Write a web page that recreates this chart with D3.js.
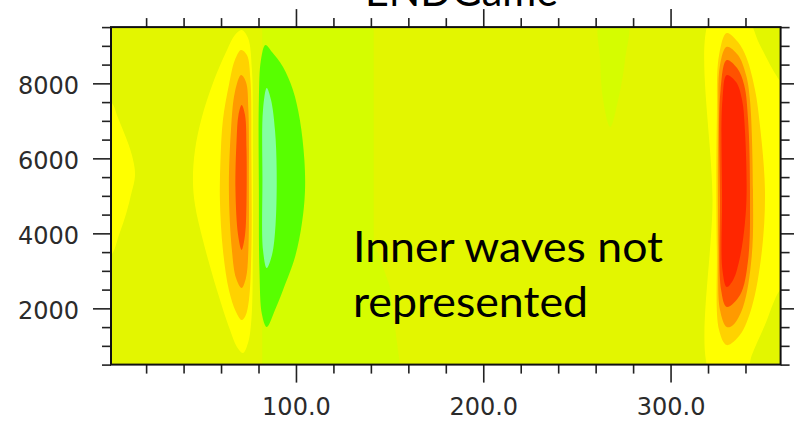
<!DOCTYPE html>
<html>
<head>
<meta charset="utf-8">
<script src="https://cdn.jsdelivr.net/npm/d3@7"></script>
<style>
  body { margin: 0; background: #fff; }
  svg { display: block; }
  .tick text { font-family: "DejaVu Sans", sans-serif; font-size: 24px; fill: #2b2b2b; }
  .tick line { stroke: #222; stroke-width: 1.6; }
  .note { font-family: Lato, "Open Sans", sans-serif; fill: #000; }
</style>
</head>
<body>
<div id="chart"></div>
<script>
var width = 794, height = 421;

// axis domain (longitude index, height m)
var xDomain = [1.25, 358.75];
var yDomain = [500, 9500];

var xMajor = [100, 200, 300];
var xMinor = [20, 40, 60, 80, 120, 140, 160, 180, 220, 240, 260, 280, 320, 340];
var yMajor = [2000, 4000, 6000, 8000];
var yMinor = [500, 1000, 1500, 2500, 3000, 3500, 4500, 5000, 5500, 6500, 7000, 7500, 8500, 9000, 9500];

// contour outlines, [x, height]
var bandGreen = [[82, 9800], [141.5, 9800], [141.5, 3800], [150, 2600], [156, 300], [82, 300]];
var topPatch = [[262.4, 9700], [276.8, 9700], [275.7, 8621], [272, 7555], [267.8, 6835], [264, 7555], [262.4, 8621]];
var edgePatch = [[-6, 7600], [1.25, 7501], [5, 7075], [8.7, 6621], [12.4, 6088], [14.1, 5555], [11.9, 5021],
  [9.6, 4568], [5.5, 3955], [1.25, 3421], [-6, 3300], [-8, 5500]];

var westYellow = [[71.0, 9421], [74.4, 9208], [76.5, 8355], [77.0, 6221], [77.0, 3555], [76.2, 1688], [74.4, 1075],
  [71.7, 808], [68.5, 968], [64.8, 1421], [57.8, 2488], [50.3, 3821], [46.1, 4755], [45.0, 5421], [46.1, 6221],
  [49.8, 7101], [55.7, 8008], [63.2, 8888], [67.4, 9288]];
var westGold = [[70.7, 8888], [73.8, 8755], [75.7, 8088], [76.2, 6221], [76.2, 3555], [74.9, 2221], [73.0, 1795],
  [71.0, 1688], [68.0, 1901], [64.2, 2488], [61.0, 3555], [59.4, 4888], [59.7, 5955], [61.0, 7021], [64.2, 7955], [67.4, 8621]];
var westOrange = [[70.7, 8221], [73.3, 8035], [74.6, 7288], [74.9, 5421], [74.6, 3555], [73.3, 2808], [71.0, 2541],
  [68.0, 2808], [65.8, 3555], [64.2, 5155], [65.3, 6755], [67.4, 7768]];
var westRed = [[71.0, 7421], [72.8, 7155], [73.6, 6221], [73.6, 4888], [72.8, 3955], [71.0, 3555], [69.1, 3955],
  [67.7, 5155], [68.3, 6488], [69.3, 7155]];

var westGreen = [[83.7, 9021], [87.2, 8835], [93.1, 8435], [98.4, 7821], [102.1, 7021], [104.5, 5955], [104.8, 5101],
  [103.2, 4275], [99.5, 3368], [93.1, 2488], [88.8, 1955], [84.4, 1501], [81.9, 1821], [80.5, 3021], [80.2, 5155],
  [80.2, 7555], [81.3, 8621]];
var westAqua = [[84.4, 7875], [86.7, 7555], [88.8, 6755], [89.7, 5688], [89.1, 4221], [87.2, 3421], [84.4, 3075],
  [82.4, 3555], [82.1, 5421], [82.4, 7288]];

var eastYellow = [[322.2, 9800], [339.7, 9800], [347.7, 9021], [357.3, 8141], [367, 7555], [367, 2888], [358.4, 2488],
  [350.4, 1555], [343.4, 755], [339.7, 200], [322.2, 200], [322.4, 4888]];
var eastGold = [[330, 9341], [336, 9101], [340.6, 8675], [345.1, 7821], [347.7, 6888], [350.4, 5155], [348.8, 3555],
  [343.4, 2035], [337, 1288], [330, 1021], [325.9, 1421], [324.7, 3555], [324.7, 7021], [325.9, 8755]];
var eastOrange = [[330, 8976], [336, 8755], [340.3, 8221], [342.4, 7555], [344, 5155], [343.3, 3368], [338.7, 2035],
  [333.4, 1555], [330, 1501], [326.4, 1955], [325.5, 3555], [325.5, 7021], [326.4, 8488]];
var eastRedOrange = [[330, 8621], [335.5, 8408], [339.3, 7955], [341.4, 7021], [342.4, 5155], [341.4, 3288], [337.1, 2355],
  [330, 2035], [327, 2488], [326.4, 4888], [326.7, 7821]];
var eastRed = [[330, 8221], [335, 8035], [338.2, 7555], [339.7, 6755], [340.6, 5101], [339.7, 4275], [337.1, 3368],
  [333.4, 2755], [330, 2568], [327.7, 3021], [327.5, 4888], [327.7, 7555]];

var levels = ["base", "band", "yellow", "gold", "orange", "redorange", "red", "green", "aqua"];
var levelColors = ["#e3f600", "#d5fd00", "#ffff00", "#ffd200", "#ff9a00", "#ff5200", "#ff2600", "#58ff00", "#84ffa2"];

var titleText = "ENDGame";
var noteLines = ["Inner waves not", "represented"];

var layers = [
  {pts: bandGreen, level: "band", sharp: true},
  {pts: topPatch, level: "band"},
  {pts: edgePatch, level: "yellow"},
  {pts: westYellow, level: "yellow"},
  {pts: westGold, level: "gold"},
  {pts: westOrange, level: "orange"},
  {pts: westRed, level: "redorange"},
  {pts: westGreen, level: "green"},
  {pts: westAqua, level: "aqua"},
  {pts: eastYellow, level: "yellow"},
  {pts: eastGold, level: "gold"},
  {pts: eastOrange, level: "orange"},
  {pts: eastRedOrange, level: "redorange"},
  {pts: eastRed, level: "red"}
];

var x = d3.scaleLinear().domain(xDomain).range([111, 780.6]);
var y = d3.scaleLinear().domain(yDomain).range([364.6, 27.1]);
var color = d3.scaleOrdinal().domain(levels).range(levelColors);

var svg = d3.select("#chart").append("svg")
  .attr("width", width)
  .attr("height", height);

svg.append("clipPath").attr("id", "plotclip")
  .append("rect")
  .attr("x", x(xDomain[0])).attr("y", y(yDomain[1]))
  .attr("width", x(xDomain[1]) - x(xDomain[0]))
  .attr("height", y(yDomain[0]) - y(yDomain[1]));

var plot = svg.append("g").attr("clip-path", "url(#plotclip)");

plot.append("rect")
  .attr("x", x(xDomain[0])).attr("y", y(yDomain[1]))
  .attr("width", x(xDomain[1]) - x(xDomain[0]))
  .attr("height", y(yDomain[0]) - y(yDomain[1]))
  .attr("fill", color("base"));

var smooth = d3.line()
  .x(function(d) { return x(d[0]); })
  .y(function(d) { return y(d[1]); })
  .curve(d3.curveCatmullRomClosed.alpha(0.5));
var sharp = d3.line()
  .x(function(d) { return x(d[0]); })
  .y(function(d) { return y(d[1]); })
  .curve(d3.curveLinearClosed);

plot.selectAll("path.level")
  .data(layers)
  .enter().append("path")
  .attr("class", "level")
  .attr("d", function(d) { return d.sharp ? sharp(d.pts) : smooth(d.pts); })
  .attr("fill", function(d) { return color(d.level); });

// axes: outward ticks on all four sides
function addAxis(axis, tx, ty) {
  var g = svg.append("g").attr("transform", "translate(" + tx + "," + ty + ")").call(axis);
  g.select(".domain").remove();
  return g;
}

var yBottom = y(yDomain[0]), yTop = y(yDomain[1]);
var xLeft = x(xDomain[0]), xRight = x(xDomain[1]);

addAxis(d3.axisBottom(x).tickValues(xMinor).tickSize(9).tickFormat(""), 0, yBottom);
addAxis(d3.axisTop(x).tickValues(xMinor).tickSize(9).tickFormat(""), 0, yTop);
addAxis(d3.axisTop(x).tickValues(xMajor).tickSize(18).tickFormat(""), 0, yTop);
addAxis(d3.axisBottom(x).tickValues(xMajor).tickSize(18).tickPadding(15).tickFormat(d3.format(".1f")), 0, yBottom);

addAxis(d3.axisLeft(y).tickValues(yMinor).tickSize(9).tickFormat(""), xLeft, 0);
addAxis(d3.axisRight(y).tickValues(yMinor).tickSize(9).tickFormat(""), xRight, 0);
addAxis(d3.axisRight(y).tickValues(yMajor).tickSize(18).tickFormat(""), xRight, 0);
addAxis(d3.axisLeft(y).tickValues(yMajor).tickSize(18).tickPadding(14).tickFormat(d3.format("d")), xLeft, 0)
  .selectAll("text").attr("dy", "0.43em");

svg.append("rect")
  .attr("x", xLeft).attr("y", yTop)
  .attr("width", xRight - xLeft)
  .attr("height", yBottom - yTop)
  .attr("fill", "none")
  .attr("stroke", "#111")
  .attr("stroke-width", 2);

// title, cut off by the top of the picture
svg.append("text")
  .attr("class", "note")
  .attr("x", 365).attr("y", 6)
  .attr("font-size", 42)
  .attr("textLength", 193)
  .attr("lengthAdjust", "spacingAndGlyphs")
  .text(titleText);

svg.selectAll("text.line")
  .data(noteLines)
  .enter().append("text")
  .attr("class", "note line")
  .attr("x", 353)
  .attr("y", function(d, i) { return 262 + i * 55; })
  .attr("font-size", 42)
  .attr("textLength", function(d, i) { return i == 0 ? 310 : 235; })
  .attr("lengthAdjust", "spacingAndGlyphs")
  .text(function(d) { return d; });
</script>
</body>
</html>
